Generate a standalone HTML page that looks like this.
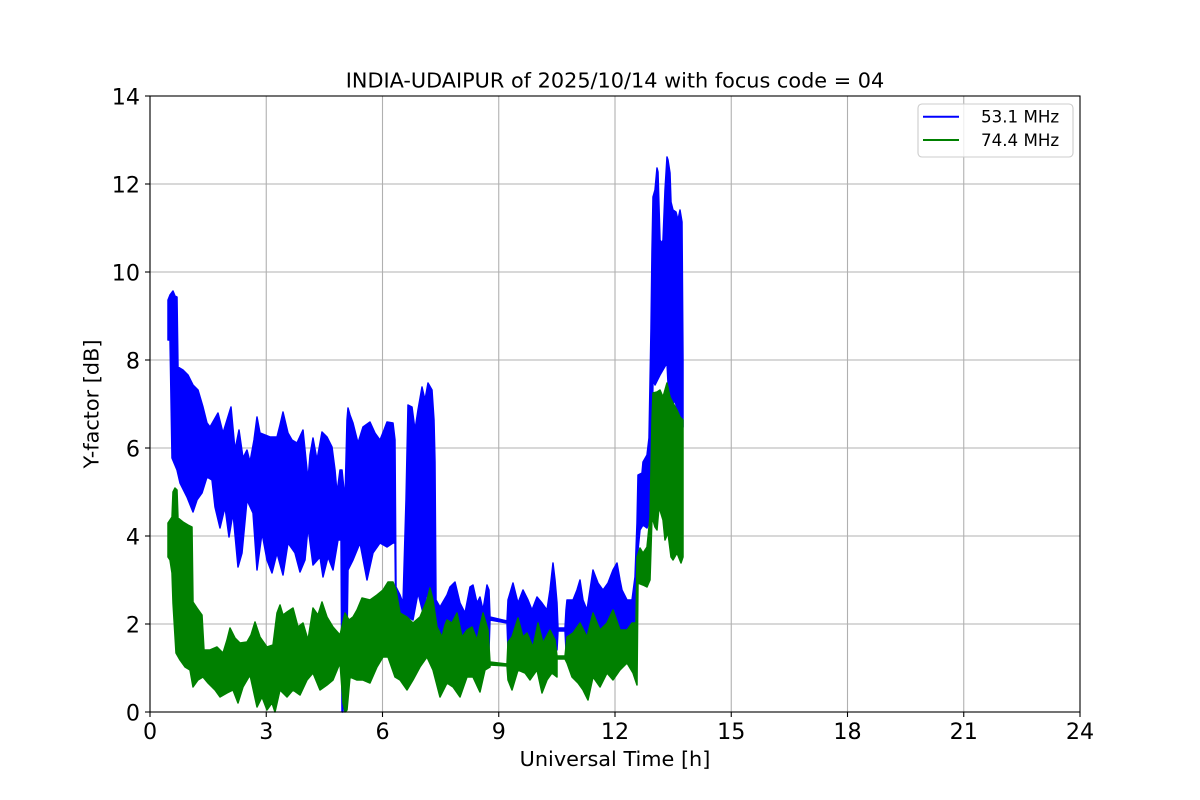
<!DOCTYPE html>
<html>
<head>
<meta charset="utf-8">
<style>
html,body{margin:0;padding:0;background:#fff;}
svg{display:block;}
text{font-family:"DejaVu Sans","Liberation Sans",sans-serif;fill:#000;}
</style>
</head>
<body>
<svg width="1200" height="800" viewBox="0 0 1200 800" xmlns="http://www.w3.org/2000/svg">
<rect x="0" y="0" width="1200" height="800" fill="#fff"/>
<!-- grid -->
<g stroke="#b0b0b0" stroke-width="1.1">
<line x1="150" y1="96" x2="150" y2="712"/>
<line x1="266.25" y1="96" x2="266.25" y2="712"/>
<line x1="382.5" y1="96" x2="382.5" y2="712"/>
<line x1="498.75" y1="96" x2="498.75" y2="712"/>
<line x1="615" y1="96" x2="615" y2="712"/>
<line x1="731.25" y1="96" x2="731.25" y2="712"/>
<line x1="847.5" y1="96" x2="847.5" y2="712"/>
<line x1="963.75" y1="96" x2="963.75" y2="712"/>
<line x1="150" y1="624" x2="1080" y2="624"/>
<line x1="150" y1="536" x2="1080" y2="536"/>
<line x1="150" y1="448" x2="1080" y2="448"/>
<line x1="150" y1="360" x2="1080" y2="360"/>
<line x1="150" y1="272" x2="1080" y2="272"/>
<line x1="150" y1="184" x2="1080" y2="184"/>
</g>
<!-- blue series 53.1 MHz -->
<polygon fill="#0000ff" stroke="#0000ff" stroke-width="1.5" stroke-linejoin="round" points="
168,300 170,295 173,291 175,296 177,297 178,367 183,370 188,375 193,385 198,390 203,407 207,423 210,427 214,420 218,413 223,433 227,420 231,407 235,450 239,430 243,458 247,450 250,462 254,440 257,417 260,433 265,435 270,437 277,437 280,425 283,412 288,433 292,440 297,443 303,430 306,460 308,480 310,455 313,438 317,460 322,432 327,437 332,447 335,470 337,493 340,470 342,470 343,480 345,500 347,420 348,408 350,415 353,423 358,443 363,427 370,422 375,433 380,440 384,430 387,422 393,423 395,440 396,587 400,595 403,603 406,500 408,405 412,407 415,430 418,410 422,387 425,400 428,383 432,390 434,420 435,462 436,600 440,607 447,595 450,587 455,582 460,603 465,613 470,587 473,585 477,603 480,597 483,610 487,585 489,590 490,617 507,621 508,600 513,583 518,603 523,590 528,600 532,610 537,597 542,603 547,610 550,590 553,563 555,580 557,603 558,628 565,628 566,610 567,600 573,600 577,590 580,580 583,600 587,610 590,590 593,570 598,583 603,590 608,583 613,570 617,563 620,580 622,590 627,600 632,600 635,577 637,523 638,475 642,473 643,462 647,455 649,438 651,328 652,250 653,197 655,190 657,168 658,172 660,240 662,243 663,240 665,190 667,157 668,160 670,173 671,202 673,210 676,212 678,220 680,210 682,222 683,360
683,427 680,417 677,410 675,400 672,407 668,383 667,363 660,375 655,385 653,380 652,440 650,520 647,528 643,525 640,530 637,560 635,650 566,650 565,631 558,631 557,650 508,650 507,623 490,620 489,650 436,650 435,620 432,620 427,593 423,613 418,593 413,620 408,617 403,640 396,640 395,543 393,543 387,547 380,543 373,553 367,580 360,543 353,560 348,570 347,640 345,640 343,712 342,712 341,540 338,540 333,570 328,557 323,577 320,557 313,565 308,527 305,560 300,572 295,553 288,543 283,575 277,553 272,573 267,560 262,533 257,570 253,513 247,500 242,553 238,567 233,513 229,537 225,507 220,528 215,507 212,480 207,477 202,493 197,500 193,512 187,497 180,483 177,470 172,458 170,340 168,340"/>
<!-- green series 74.4 MHz -->
<polygon fill="#008000" stroke="#008000" stroke-width="1.5" stroke-linejoin="round" points="
168,523 170,520 172,517 173,492 175,488 177,490 178,518 183,522 188,525 192,527 193,602 197,608 202,615 204,650 210,650 217,647 223,653 227,640 230,628 235,638 240,643 247,642 251,635 255,622 260,637 267,647 273,645 277,613 280,605 283,615 287,612 293,608 298,627 303,623 308,640 313,608 318,615 322,602 327,617 333,627 340,635 345,613 349,620 353,617 357,610 362,598 370,600 377,595 383,590 388,582 393,582 396,590 400,613 407,617 413,623 420,617 427,600 430,588 433,600 437,627 442,637 445,625 447,620 452,623 457,613 462,637 467,630 472,627 477,640 483,613 488,630 490,662 507,664 508,642 512,637 518,618 523,637 527,633 533,647 538,623 543,643 550,630 555,640 557,656 565,656 567,637 573,633 580,623 587,637 593,613 600,630 607,623 613,610 620,630 627,630 632,623 636,623 637,557 640,548 643,553 647,547 650,517 652,420 653,393 657,392 660,390 663,397 667,383 670,397 673,403 677,410 680,417 683,420
683,557 681,563 677,553 673,560 671,557 668,533 665,540 663,520 659,507 657,530 655,527 652,517 650,580 647,587 643,585 638,583 637,685 633,673 627,663 620,670 613,680 607,673 600,687 593,677 588,700 583,690 578,683 572,677 567,663 565,659 557,659 557,677 552,673 547,680 542,693 537,670 530,680 525,673 518,670 512,690 508,680 507,666 490,665 490,667 485,670 480,692 473,677 467,677 460,697 453,687 447,683 440,697 433,670 427,657 420,667 413,680 407,690 400,680 395,677 388,657 383,657 377,667 370,683 363,680 357,680 350,677 347,710 345,712 343,703 340,663 333,680 327,685 320,690 313,673 307,680 300,695 293,690 287,697 280,690 275,712 272,703 267,710 262,697 257,707 250,675 243,687 238,703 233,690 227,693 220,697 215,690 208,683 203,677 198,680 193,687 190,670 185,667 180,660 176,653 173,603 172,573 170,560 168,557"/>
<!-- axes frame -->
<rect x="150" y="96" width="930" height="616" fill="none" stroke="#000" stroke-width="1.1"/>
<!-- ticks -->
<g stroke="#000" stroke-width="1.1">
<line x1="150" y1="712" x2="150" y2="717"/>
<line x1="266.25" y1="712" x2="266.25" y2="717"/>
<line x1="382.5" y1="712" x2="382.5" y2="717"/>
<line x1="498.75" y1="712" x2="498.75" y2="717"/>
<line x1="615" y1="712" x2="615" y2="717"/>
<line x1="731.25" y1="712" x2="731.25" y2="717"/>
<line x1="847.5" y1="712" x2="847.5" y2="717"/>
<line x1="963.75" y1="712" x2="963.75" y2="717"/>
<line x1="1080" y1="712" x2="1080" y2="717"/>
<line x1="145" y1="712" x2="150" y2="712"/>
<line x1="145" y1="624" x2="150" y2="624"/>
<line x1="145" y1="536" x2="150" y2="536"/>
<line x1="145" y1="448" x2="150" y2="448"/>
<line x1="145" y1="360" x2="150" y2="360"/>
<line x1="145" y1="272" x2="150" y2="272"/>
<line x1="145" y1="184" x2="150" y2="184"/>
<line x1="145" y1="96" x2="150" y2="96"/>
</g>
<!-- x tick labels -->
<g font-size="22.2" text-anchor="middle">
<text x="150" y="739">0</text>
<text x="266.25" y="739">3</text>
<text x="382.5" y="739">6</text>
<text x="498.75" y="739">9</text>
<text x="615" y="739">12</text>
<text x="731.25" y="739">15</text>
<text x="847.5" y="739">18</text>
<text x="963.75" y="739">21</text>
<text x="1080" y="739">24</text>
</g>
<!-- y tick labels -->
<g font-size="22.2" text-anchor="end">
<text x="140" y="720.5">0</text>
<text x="140" y="632.5">2</text>
<text x="140" y="544.5">4</text>
<text x="140" y="456.5">6</text>
<text x="140" y="368.5">8</text>
<text x="140" y="280.5">10</text>
<text x="140" y="192.5">12</text>
<text x="140" y="104.5">14</text>
</g>
<!-- title and axis labels -->
<text x="615" y="87.7" font-size="20.8" text-anchor="middle">INDIA-UDAIPUR of 2025/10/14 with focus code = 04</text>
<text x="615" y="766" font-size="20.8" text-anchor="middle">Universal Time [h]</text>
<text transform="translate(98.7,404) rotate(-90)" font-size="20.8" text-anchor="middle">Y-factor [dB]</text>
<!-- legend -->
<rect x="918" y="104" width="155" height="53" rx="4" ry="4" fill="#ffffff" fill-opacity="0.8" stroke="#cccccc" stroke-width="1.1"/>
<line x1="923" y1="116.7" x2="959" y2="116.7" stroke="#0000ff" stroke-width="2"/>
<line x1="923" y1="140" x2="959" y2="140" stroke="#008000" stroke-width="2"/>
<text x="981" y="122.7" font-size="16.7">53.1 MHz</text>
<text x="981" y="146" font-size="16.7">74.4 MHz</text>
</svg>
</body>
</html>
